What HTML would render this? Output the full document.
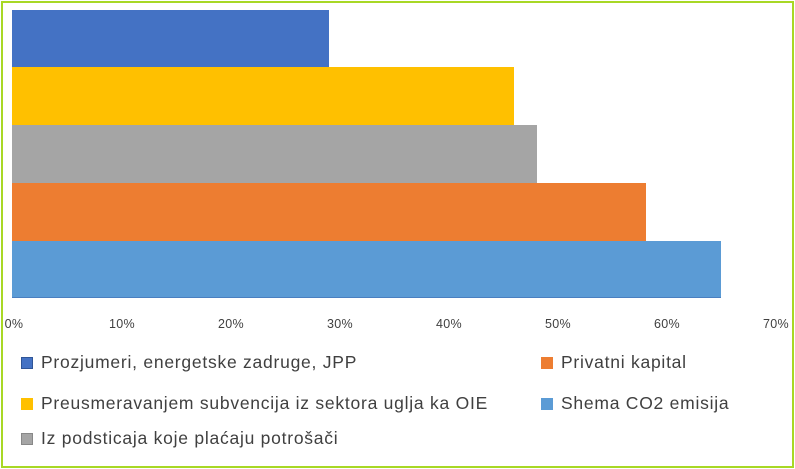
<!DOCTYPE html><html><head><style>
body{margin:0;width:795px;height:469px;background:#fff;font-family:"Liberation Sans",sans-serif;overflow:hidden}
.f{position:absolute;left:1px;top:1px;width:789px;height:463px;border:2px solid #a8d825}
.b{position:absolute;left:12px}
.t{position:absolute;top:317px;font-size:12.5px;color:#404040;width:40px;text-align:center;letter-spacing:0.3px}
.l{position:absolute;font-size:17.5px;color:#404040;white-space:nowrap;letter-spacing:0.75px}
.l i{display:inline-block;width:12px;height:12px;margin-right:8px;vertical-align:-1px;box-sizing:border-box}
</style></head><body><div class="f"></div>
<div class="b" style="top:10px;height:57px;width:317px;background:#4472c4"></div>
<div class="b" style="top:67px;height:58px;width:502px;background:#ffc000"></div>
<div class="b" style="top:125px;height:58px;width:525px;background:#a5a5a5"></div>
<div class="b" style="top:183px;height:58px;width:634px;background:#ed7d31"></div>
<div class="b" style="top:241px;height:56px;width:709px;background:#5b9bd5;border-bottom:1px solid #4a7fc0"></div>
<div class="t" style="left:-6px">0%</div><div class="t" style="left:102px">10%</div><div class="t" style="left:211px">20%</div><div class="t" style="left:320px">30%</div><div class="t" style="left:429px">40%</div><div class="t" style="left:538px">50%</div><div class="t" style="left:647px">60%</div><div class="t" style="left:756px">70%</div>
<div class="l" style="left:21px;top:352px"><i style="background:#4472c4;border:1px solid #2f5597"></i>Prozjumeri, energetske zadruge, JPP</div>
<div class="l" style="left:21px;top:393px"><i style="background:#ffc000"></i>Preusmeravanjem subvencija iz sektora uglja ka OIE</div>
<div class="l" style="left:21px;top:428px"><i style="background:#a5a5a5;border:1px solid #888"></i>Iz podsticaja koje plaćaju potrošači</div>
<div class="l" style="left:541px;top:352px"><i style="background:#ed7d31"></i>Privatni kapital</div>
<div class="l" style="left:541px;top:393px"><i style="background:#5b9bd5"></i>Shema CO2 emisija</div>
</body></html>
